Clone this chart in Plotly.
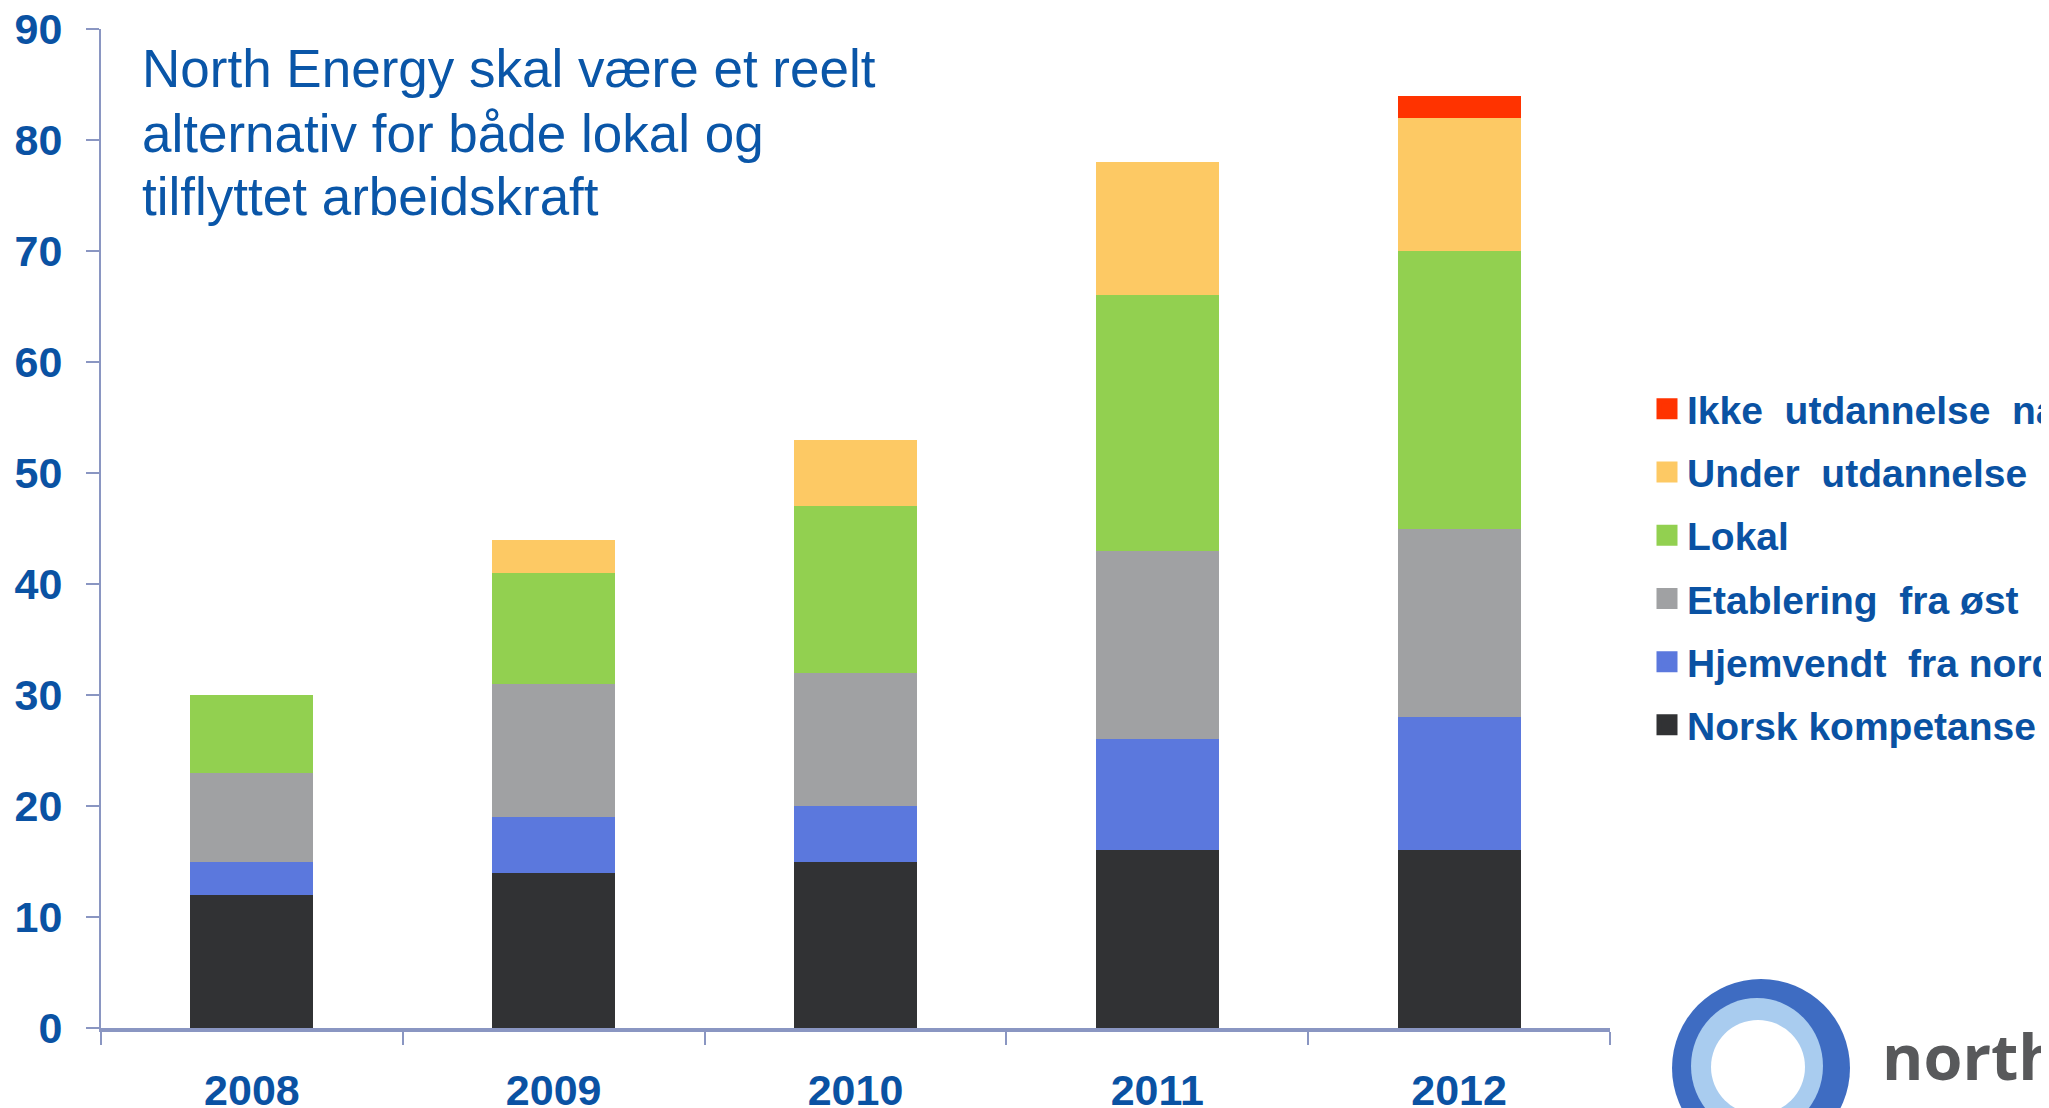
import plotly.graph_objects as go

years = ["2008", "2009", "2010", "2011", "2012"]
norsk = [12, 14, 15, 16, 16]
hjemvendt = [3, 5, 5, 10, 12]
etablering = [8, 12, 12, 17, 17]
lokal = [7, 10, 15, 23, 25]
under = [0, 3, 6, 12, 12]
ikke = [0, 0, 0, 0, 2]

series_names = ["Norsk kompetanse", "Hjemvendt  fra nord", "Etablering  fra øst",
                "Lokal", "Under  utdannelse", "Ikke  utdannelse  nå"]
series_values = [norsk, hjemvendt, etablering, lokal, under, ikke]
series_colors = ["#313234", "#5b78dd", "#a0a1a3", "#92d050", "#fdc964", "#ff3300"]

title_lines = ["North Energy skal være et reelt", "alternativ for både lokal og",
               "tilflyttet arbeidskraft"]

# page body margin offset
OFF = 8
W, H = 2049 - OFF, 1108 - OFF
# plot area in page pixels: x 101..1610, y 29..1028
L, T = 101 - OFF, 29 - OFF
R = W - (1610 - OFF)
B = H - (1028 - OFF)
PW, PH = W - L - R, H - T - B

def px(x):  # page pixel x -> paper
    return (x - OFF - L) / PW

def py(y):  # page pixel y -> paper
    return (H - B - (y - OFF)) / PH

BLUE = "#0a52a3"
AXIS = "#8a96c2"

fig = go.Figure()
for name, vals, col in zip(series_names, series_values, series_colors):
    fig.add_trace(go.Bar(x=years, y=vals, name=name, marker_color=col,
                         marker_line_width=0, showlegend=False))

# legend entries (top to bottom)
for i, (name, col) in enumerate(zip(series_names[::-1], series_colors[::-1])):
    fig.add_trace(go.Scatter(x=[None], y=[None], mode="markers", name=name,
                             legendgroup="g%d" % i,
                             marker=dict(symbol="square", size=16, color=col,
                                         line=dict(width=5, color=col))))

fig.update_layout(
    width=W, height=H,
    margin=dict(l=L, r=R, t=T, b=B, autoexpand=False),
    barmode="stack", bargap=0.593,
    plot_bgcolor="white", paper_bgcolor="white",
    legend=dict(x=px(1647), y=py(377), xanchor="left", yanchor="top",
                font=dict(family="Liberation Sans", size=39, color=BLUE,
                          weight="bold"),
                tracegroupgap=9.5, traceorder="grouped",
                bgcolor="rgba(0,0,0,0)"),
    xaxis=dict(type="category", showline=True, linecolor=AXIS, linewidth=4,
               ticks="outside", tickson="boundaries", ticklen=13,
               tickcolor=AXIS, tickwidth=2, showgrid=False,
               tickfont=dict(family="Liberation Sans", size=43, color=BLUE,
                             weight="bold"),
               ticklabelstandoff=21, ticklabeloverflow="allow"),
    yaxis=dict(range=[0, 90], dtick=10, showline=True, linecolor=AXIS,
               linewidth=2, ticks="outside", ticklen=13, tickcolor=AXIS,
               tickwidth=2, showgrid=False, zeroline=False,
               tickfont=dict(family="Liberation Sans", size=43, color=BLUE,
                             weight="bold"),
               ticklabelstandoff=15, ticklabeloverflow="allow"),
)

for line, yc in zip(title_lines, [69, 134, 197]):
    fig.add_annotation(xref="paper", yref="paper", x=px(140), y=py(yc),
                       xanchor="left", yanchor="middle", align="left",
                       showarrow=False, text=line,
                       font=dict(family="Liberation Sans", size=53,
                                 color="#0a56a8"))

# logo (approximate)
cx, cy, r = 1761, 1068, 89
fig.add_shape(type="circle", xref="paper", yref="paper",
              x0=px(cx - r), x1=px(cx + r), y0=py(cy + r), y1=py(cy - r),
              fillcolor="#3e6cc2", line=dict(width=0), layer="above")
fig.add_shape(type="circle", xref="paper", yref="paper",
              x0=px(cx - 70), x1=px(cx + 62), y0=py(cy + 66), y1=py(cy - 70),
              fillcolor="#a9ccef", line=dict(width=0), layer="above")
fig.add_shape(type="circle", xref="paper", yref="paper",
              x0=px(cx - 50), x1=px(cx + 44), y0=py(cy + 46), y1=py(cy - 48),
              fillcolor="white", line=dict(width=0), layer="above")
fig.add_annotation(xref="paper", yref="paper", x=px(1880), y=py(1100),
                   xanchor="left", yanchor="bottom", showarrow=False,
                   text="north", font=dict(family="Open Sans", size=63,
                                           color="#58595b", weight="bold"))
fig.add_annotation(xref="paper", yref="paper", x=px(1968), y=py(1094),
                   xanchor="left", yanchor="top", showarrow=False,
                   text="energy", font=dict(family="Open Sans", size=26,
                                            color="#8a8b8d"))

fig.write_html("out.html")
